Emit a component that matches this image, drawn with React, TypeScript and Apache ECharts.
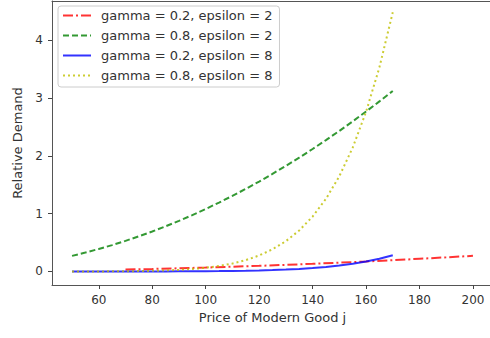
import React, { useEffect, useRef } from "react";
import * as echarts from "echarts";

const xSteep = [50, 55, 60, 65, 70, 75, 80, 85, 90, 95, 100, 105, 110, 115, 120, 125, 130, 135, 140, 145, 150, 155, 160, 165, 170];
const xRed = [70, 80, 90, 100, 110, 120, 130, 140, 150, 160, 170, 180, 190, 200];

const redVals = [0.033, 0.043, 0.055, 0.068, 0.082, 0.097, 0.114, 0.132, 0.152, 0.173, 0.195, 0.219, 0.244, 0.27];
const greenVals = [0.27, 0.327, 0.389, 0.456, 0.529, 0.608, 0.691, 0.78, 0.875, 0.975, 1.08, 1.191, 1.307, 1.428, 1.555, 1.688, 1.825, 1.968, 2.117, 2.271, 2.43, 2.595, 2.765, 2.94, 3.121];
const blueVals = [0.00002, 0.00003, 0.00007, 0.00013, 0.00023, 0.0004, 0.00068, 0.0011, 0.0017, 0.0027, 0.004, 0.0059, 0.0086, 0.0123, 0.0173, 0.0239, 0.0328, 0.0443, 0.0593, 0.0784, 0.1029, 0.1338, 0.1725, 0.2206, 0.28];
const yellowVals = [0.00025, 0.00054, 0.00108, 0.002, 0.0037, 0.0064, 0.0108, 0.0175, 0.0277, 0.0426, 0.0642, 0.0949, 0.1377, 0.1965, 0.2762, 0.3829, 0.524, 0.709, 0.949, 1.255, 1.646, 2.14, 2.76, 3.529, 4.48];

const seriesNames = ["gamma = 0.2, epsilon = 2", "gamma = 0.8, epsilon = 2", "gamma = 0.2, epsilon = 8", "gamma = 0.8, epsilon = 8"];
const xTicks = [60, 80, 100, 120, 140, 160, 180, 200];
const yTicks = [0, 1, 2, 3, 4];

const FONT = "DejaVu Sans";
const SPINE = "#555";

export default function App() {
  const ref = useRef<HTMLDivElement>(null);
  useEffect(() => {
    if (!ref.current) return;
    const chart = echarts.init(ref.current, null, { renderer: "svg" });
    const pair = (xs: number[], ys: number[]) => xs.map((x, i) => [x, ys[i]]);
    const mk = (name: string, data: number[][], color: string, type: any) => ({
      name,
      type: "line",
      data,
      symbol: "none",
      smooth: false,
      lineStyle: { color, width: 2, type, opacity: 0.8 },
      itemStyle: { color, opacity: 0.8 },
      emphasis: { disabled: true },
    });
    chart.setOption({
      animation: false,
      textStyle: { fontFamily: FONT },
      grid: { left: 52, top: 1, right: 1, bottom: 53, show: false },
      xAxis: [
        {
          type: "value",
          min: 42.5,
          max: 207.5,
          name: "Price of Modern Good j",
          nameLocation: "middle",
          nameGap: 26,
          nameTextStyle: { fontSize: 13, color: "#333", fontFamily: FONT },
          splitLine: { show: false },
          axisLine: { show: true, onZero: false, lineStyle: { color: SPINE, width: 1 } },
          axisTick: { show: true, length: 4, lineStyle: { color: "#444" }, customValues: xTicks },
          axisLabel: { fontSize: 12, color: "#333", margin: 9, fontFamily: FONT, customValues: xTicks },
        },
        {
          type: "value",
          position: "top",
          min: 42.5,
          max: 207.5,
          splitLine: { show: false },
          axisLine: { show: true, onZero: false, lineStyle: { color: SPINE, width: 1 } },
          axisTick: { show: false },
          axisLabel: { show: false },
        },
      ],
      yAxis: {
        type: "value",
        min: -0.234,
        max: 4.676,
        name: "Relative Demand",
        nameLocation: "middle",
        nameGap: 26,
        nameTextStyle: { fontSize: 13, color: "#333", fontFamily: FONT },
        splitLine: { show: false },
        axisLine: { show: true, onZero: false, lineStyle: { color: SPINE, width: 1 } },
        axisTick: { show: true, length: 4, lineStyle: { color: "#444" }, customValues: yTicks },
        axisLabel: { fontSize: 12, color: "#333", margin: 9, fontFamily: FONT, customValues: yTicks },
      },
      legend: {
        show: true,
        orient: "vertical",
        left: 58,
        top: 6,
        itemWidth: 28,
        itemHeight: 14,
        itemGap: 7,
        padding: [3, 7, 5, 4],
        backgroundColor: "rgba(255,255,255,0.8)",
        borderColor: "#ccc",
        borderWidth: 1,
        borderRadius: 3,
        itemStyle: { opacity: 0 },
        textStyle: { fontSize: 13, color: "#333", fontFamily: FONT, padding: [0, 0, 0, 5] },
        data: seriesNames,
      },
      series: [
        mk(seriesNames[0], pair(xRed, redVals), "#ff0000", [10, 3, 2, 3]),
        mk(seriesNames[1], pair(xSteep, greenVals), "#008000", [6, 3]),
        mk(seriesNames[2], pair(xSteep, blueVals), "#0000ff", "solid"),
        mk(seriesNames[3], pair(xSteep, yellowVals), "#bfbf00", [2, 3]),
      ],
    });
    return () => chart.dispose();
  }, []);
  return (
    <div style={{ position: "fixed", left: 0, top: 0, width: 490, height: 338, overflow: "hidden", background: "#fff" }}>
      <div ref={ref} style={{ width: 494, height: 338 }} />
    </div>
  );
}
